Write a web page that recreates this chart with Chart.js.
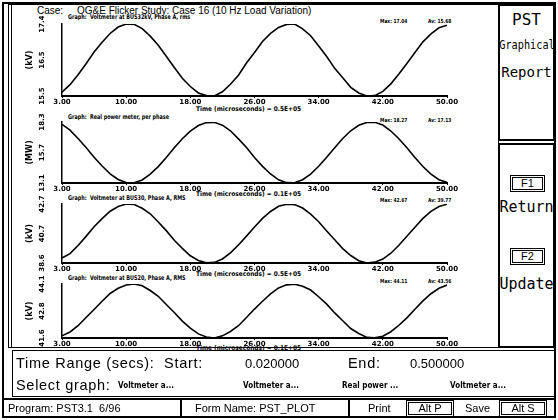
<!DOCTYPE html>
<html>
<head>
<meta charset="utf-8">
<script src="https://cdn.jsdelivr.net/npm/chart.js@4.4.1/dist/chart.umd.min.js"></script>
<style>
html, body { margin: 0; padding: 0; background: #fff; }
body { width: 558px; height: 420px; position: relative; overflow: hidden; font-family: "Liberation Sans", Arial, sans-serif; color: #000; }
.t { position: absolute; white-space: nowrap; line-height: 1; transform-origin: 0 50%; }
.box { position: absolute; border: 2px solid #000; box-sizing: border-box; }
canvas { position: absolute; }
.gtitle { font-size: 6.5px; font-weight: bold; font-family: "DejaVu Sans", sans-serif; transform: scaleX(0.75); }
.stat { font-size: 5.5px; font-weight: bold; font-family: "DejaVu Sans", sans-serif; transform: scaleX(0.8); }
.tlab { font-size: 6.5px; font-weight: bold; font-family: "DejaVu Sans", sans-serif; transform: scaleX(0.9); }
.side { font-family: "DejaVu Sans Mono", monospace; width: 90px; text-align: center; left: 481.5px; transform-origin: 50% 50%; }
.key { position: absolute; border: 3px double #000; box-sizing: border-box; text-align: center; font-size: 11px; line-height: 11px; }
.sel { font-size: 8px; font-weight: bold; font-family: "DejaVu Sans", sans-serif; transform: scaleX(0.9); }
.big { font-size: 14.5px; letter-spacing: 0.7px; }
</style>
</head>
<body>
<!-- cadre général -->
<div class="box" style="left:2px;top:2px;width:554px;height:416px;"></div>
<div class="box" style="left:8px;top:4px;width:491px;height:344px;border-width:1.5px;"></div>
<div style="position:absolute;left:11px;top:4px;width:0;height:344px;border-left:1.5px solid #000;"></div>
<div class="box" style="left:498px;top:4px;width:57px;height:137px;"></div>
<div class="box" style="left:498px;top:143px;width:57px;height:205px;"></div>
<div class="box" style="left:12px;top:350px;width:543px;height:47px;border-width:1.5px;"></div>
<div style="position:absolute;left:2px;top:398px;width:554px;border-top:2px solid #000;"></div>
<div style="position:absolute;left:180px;top:398px;height:20px;border-left:2px solid #000;"></div>
<div style="position:absolute;left:348px;top:398px;height:20px;border-left:2px solid #000;"></div>

<div class="t" style="left:37px;top:6px;font-size:10px;">Case:&nbsp;&nbsp;&nbsp;&nbsp; OG&amp;E Flicker Study: Case 16 (10 Hz Load Variation)</div>

<div class="t gtitle" style="left:68px;top:14px;">Graph:&nbsp; Voltmeter at BUS32kV, Phase A, rms</div>
<div class="t gtitle" style="left:68px;top:114px;">Graph:&nbsp; Real power meter, per phase</div>
<div class="t gtitle" style="left:68px;top:195px;">Graph:&nbsp; Voltmeter at BUS30, Phase A, RMS</div>
<div class="t gtitle" style="left:68px;top:275px;">Graph:&nbsp; Voltmeter at BUS20, Phase A, RMS</div>

<div class="t stat" style="left:380px;top:19px;">Max: 17.04</div>
<div class="t stat" style="left:428px;top:19px;">Av: 15.68</div>
<div class="t stat" style="left:380px;top:118px;">Max: 18.27</div>
<div class="t stat" style="left:428px;top:118px;">Av: 17.13</div>
<div class="t stat" style="left:380px;top:198px;">Max: 42.67</div>
<div class="t stat" style="left:428px;top:198px;">Av: 39.77</div>
<div class="t stat" style="left:380px;top:279px;">Max: 44.11</div>
<div class="t stat" style="left:428px;top:279px;">Av: 43.56</div>

<div class="t tlab" style="left:196px;top:106px;">Time (microseconds) = 0.5E+05</div>
<div class="t tlab" style="left:196px;top:191px;">Time (microseconds) = 0.1E+05</div>
<div class="t tlab" style="left:196px;top:271px;">Time (microseconds) = 0.5E+05</div>
<div class="t tlab" style="left:196px;top:345px;">Time (microseconds) = 0.1E+05</div>

<canvas id="g1" width="455" height="94" style="left:12px;top:16px;"></canvas>
<canvas id="g2" width="455" height="83" style="left:12px;top:114px;"></canvas>
<canvas id="g3" width="455" height="81" style="left:12px;top:196px;"></canvas>
<canvas id="g4" width="455" height="76" style="left:12px;top:276px;"></canvas>

<div class="t side" style="top:12px;font-size:16px;">PST</div>
<div class="t side" style="top:39px;font-size:12.5px;transform:scaleX(0.82);">Graphical</div>
<div class="t side" style="top:65px;font-size:14px;">Report</div>
<div class="key" style="left:510px;top:175px;width:35px;height:17px;">F1</div>
<div class="t side" style="top:200px;font-size:15px;">Return</div>
<div class="key" style="left:510px;top:248px;width:35px;height:17px;">F2</div>
<div class="t side" style="top:277px;font-size:15px;">Update</div>

<div class="t big" style="left:16px;top:356px;">Time Range (secs):&nbsp; Start:</div>
<div class="t" style="left:245px;top:357px;font-size:13px;">0.020000</div>
<div class="t big" style="left:348px;top:356px;">End:</div>
<div class="t" style="left:410px;top:357px;font-size:13px;">0.500000</div>
<div class="t big" style="left:16px;top:378px;">Select graph:</div>
<div class="t sel" style="left:118px;top:382px;">Voltmeter a...</div>
<div class="t sel" style="left:243px;top:382px;">Voltmeter a...</div>
<div class="t sel" style="left:342px;top:382px;">Real power ...</div>
<div class="t sel" style="left:450px;top:382px;">Voltmeter a...</div>

<div class="t" style="left:8px;top:403px;font-size:11px;">Program: PST3.1&nbsp; 6/96</div>
<div class="t" style="left:195px;top:403px;font-size:11px;">Form Name: PST_PLOT</div>
<div class="t" style="left:368px;top:403px;font-size:11px;">Print</div>
<div class="key" style="left:406px;top:400px;width:48px;height:17px;">Alt P</div>
<div class="t" style="left:465px;top:403px;font-size:11px;">Save</div>
<div class="key" style="left:499px;top:400px;width:48px;height:17px;">Alt S</div>

<script>
// temps (unités de l'axe) et valeurs
const timeValues = [2,3,4,5,6,7,8,9,10,11,12,13,14,15,16,17,18,19,20,21,22,23,24,25,26,27,28,29,30,31,32,33,34,35,36,37,38,39,40,41,42,43,44,45,46,47,48,49,50];
const xTickValues = [2, 10, 18, 26, 34, 42, 50];
const xTickLabels = ['3.00', '10.00', '18.00', '26.00', '34.00', '42.00', '50.00'];

const bus32Volts = [15.60,15.80,16.06,16.35,16.66,16.92,17.15,17.32,17.40,17.39,
  17.28,17.08,16.84,16.55,16.25,15.97,15.75,15.58,15.51,15.50,
  15.61,15.81,16.05,16.37,16.65,16.94,17.15,17.31,17.39,17.40,
  17.27,17.09,16.82,16.54,16.23,15.98,15.73,15.58,15.50,15.51,
  15.62,15.82,16.08,16.36,16.65,16.93,17.14,17.30,17.37];
const realPower = [18.10,17.60,16.90,16.12,15.30,14.55,13.88,13.40,13.14,13.12,
  13.36,13.85,14.50,15.28,16.10,16.87,17.52,18.00,18.25,18.27,
  18.03,17.55,16.86,16.13,15.27,14.52,13.87,13.37,13.13,13.12,
  13.38,13.86,14.53,15.30,16.11,16.89,17.55,18.02,18.26,18.28,
  18.04,17.53,16.87,16.10,15.28,14.51,13.86,13.38,13.15];
const bus30Volts = [38.95,39.25,39.82,40.45,41.12,41.68,42.20,42.52,42.70,42.66,
  42.40,42.02,41.45,40.85,40.18,39.62,39.10,38.78,38.62,38.64,
  38.88,39.30,39.85,40.47,41.10,41.70,42.18,42.54,42.68,42.66,
  42.42,42.00,41.47,40.83,40.21,39.60,39.12,38.76,38.60,38.66,
  38.87,39.28,39.83,40.46,41.09,41.70,42.19,42.52,42.68];
const bus20Volts = [41.70,41.88,42.17,42.55,42.92,43.30,43.66,43.90,44.05,44.10,
  44.02,43.80,43.53,43.15,42.78,42.38,42.06,41.79,41.65,41.60,
  41.70,41.90,42.17,42.55,42.94,43.30,43.64,43.92,44.06,44.09,
  44.00,43.82,43.51,43.17,42.76,42.40,42.04,41.81,41.63,41.61,
  41.68,41.89,42.19,42.53,42.93,43.32,43.65,43.90,44.05];

// graduations Y (min, milieu, max) de chaque graphe
const bus32Ticks = [15.5, 16.45, 17.4];
const bus32TickLabels = ['15.5', '16.5', '17.4'];
const powerTicks = [13.1, 15.7, 18.3];
const powerTickLabels = ['13.1', '15.7', '18.3'];
const bus30Ticks = [38.6, 40.65, 42.7];
const bus30TickLabels = ['38.6', '40.7', '42.7'];
const bus20Ticks = [41.6, 42.85, 44.1];
const bus20TickLabels = ['41.6', '42.8', '44.1'];

const smallFont = { family: 'DejaVu Sans', size: 7, weight: 'bold' };

function desenhaGrafico(canvasId, valores, yTicks, yLabels, unidade, xDash) {
    const pontos = timeValues.map((t, i) => ({ x: t, y: valores[i] }));
    return new Chart(document.getElementById(canvasId), {
        type: 'line',
        data: {
            datasets: [{
                data: pontos,
                borderColor: '#000',
                borderWidth: 1.6,
                pointRadius: 0,
                tension: 0,
                fill: false
            }]
        },
        options: {
            responsive: false,
            animation: false,
            events: [],
            layout: { padding: { top: 8, right: 20, bottom: 0, left: 0 } },
            plugins: { legend: { display: false }, tooltip: { enabled: false } },
            scales: {
                x: {
                    type: 'linear',
                    min: timeValues[0],
                    max: timeValues[timeValues.length - 1],
                    afterBuildTicks: (s) => { s.ticks = xTickValues.map(v => ({ value: v })); },
                    afterFit: (s) => { s.height = 14; },
                    ticks: {
                        autoSkip: false, maxRotation: 0, padding: 0, color: '#000', font: smallFont,
                        callback: (v, i) => xTickLabels[i]
                    },
                    grid: { display: true, drawOnChartArea: false, tickLength: 2, color: '#000' },
                    border: { display: true, color: '#000', width: 2, dash: xDash }
                },
                y: {
                    type: 'linear',
                    min: yTicks[0],
                    max: yTicks[yTicks.length - 1],
                    afterBuildTicks: (s) => { s.ticks = yTicks.map(v => ({ value: v })); },
                    afterFit: (s) => { s.width = 50; },
                    ticks: {
                        minRotation: 90, maxRotation: 90, crossAlign: 'center', padding: 1,
                        color: '#000', font: smallFont,
                        callback: (v, i) => yLabels[i]
                    },
                    // tickLength sert seulement à décaler les libellés
                    grid: { display: false, drawTicks: true, tickLength: 10 },
                    border: { display: true, color: '#000', width: 1.5, dash: [2, 2] },
                    title: {
                        display: true, text: unidade, color: '#000',
                        font: { family: 'DejaVu Sans', size: 8, weight: 'bold' },
                        padding: { top: 13, bottom: 0 }
                    }
                }
            }
        }
    });
}

desenhaGrafico('g1', bus32Volts, bus32Ticks, bus32TickLabels, '(kV)', []);
desenhaGrafico('g2', realPower, powerTicks, powerTickLabels, '(MW)', [6, 3]);
desenhaGrafico('g3', bus30Volts, bus30Ticks, bus30TickLabels, '(kV)', []);
desenhaGrafico('g4', bus20Volts, bus20Ticks, bus20TickLabels, '(kV)', []);
</script>
</body>
</html>
